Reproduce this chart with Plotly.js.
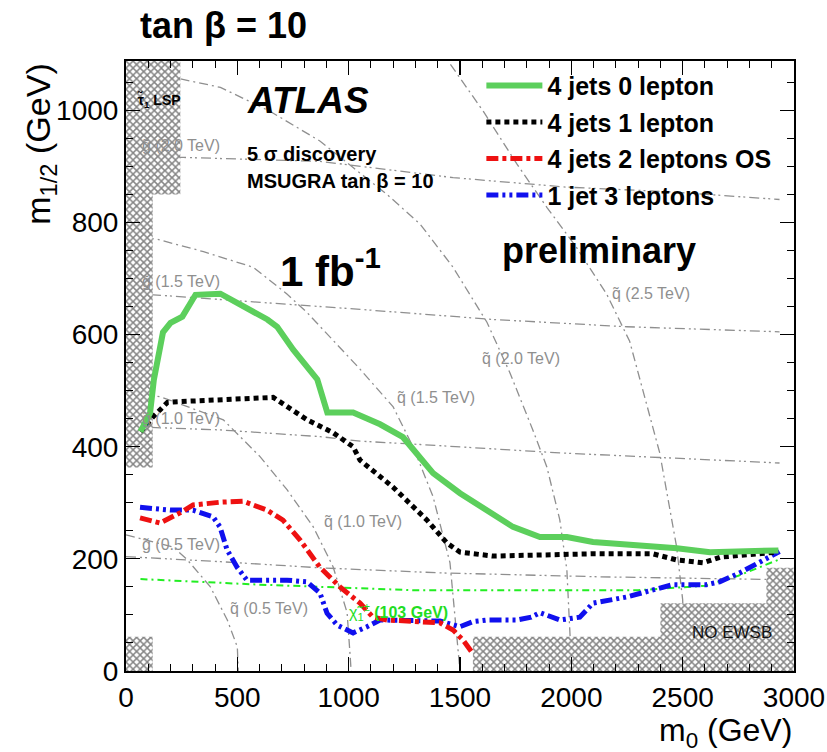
<!DOCTYPE html>
<html>
<head>
<meta charset="utf-8">
<script src="https://cdn.plot.ly/plotly-3.0.1.min.js"></script>
<style>html,body{margin:0;padding:0;background:#fff;}#chart{width:827px;height:752px;}</style>
</head>
<body>
<div id="chart"></div>
<script>
// ---- discovery contours (m0, m1/2 in GeV) ----
const zeroLep_m0 = [65,108,125,166,200,253,312,424,635,679,751,859,904,1020,1141,1244,1379,1500,1738,1859,1980,2097,2474,2623,2930];
const zeroLep_m12 = [427,460,519,604,621,632,671,673,627,614,573,520,461,461,440,417,353,317,257,239,239,230,219,212,215];

const oneLep_m0 = [65,123,186,213,661,693,814,930,1020,1051,1199,1352,1442,1500,1648,2097,2366,2474,2591,2668,2923];
const oneLep_m12 = [427,454,479,480,488,480,448,425,400,376,328,269,228,212,205,209,209,198,193,203,212];

const twoLep_m0 = [63,153,242,301,422,525,633,705,781,871,961,1051,1109,1172,1410,1469,1514,1560];
const twoLep_m12 = [273,264,282,296,301,303,287,269,234,185,150,121,96,91,86,73,55,30];

const threeLep_m0 = [63,198,301,391,422,454,499,543,723,813,871,903,948,1020,1082,1141,1410,1500,1558,1621,1756,1820,1859,1949,2038,2097,2249,2366,2455,2607,2666,2756,2846,2935];
const threeLep_m12 = [292,287,287,275,257,216,185,162,162,159,139,103,82,68,79,91,89,79,88,91,91,96,104,91,96,121,132,145,154,154,159,175,193,213];

// chargino 103 GeV line
const chi_m0 = [65,600,1300,2300,2600,2750,2940];
const chi_m12 = [164,154,144,144,152,170,200];

// gluino iso-mass lines
const gl05_m0 = [0,424,872,1321,1411,2128,2935];
const gl05_m12 = [204,195,184,177,175,168,163];
const gl10_m0 = [0,424,872,1052,1321,1948,2935];
const gl10_m12 = [436,430,418,410,404,389,371];
const gl15_m0 = [0,123,1052,1648,2249,2935];
const gl15_m12 = [673,671,645,627,614,605];
const gl20_m0 = [0,258,872,1469,1980,2428,2935];
const gl20_m12 = [918,916,909,880,863,855,841];

// squark iso-mass curves
const sq05_m0 = [0,213,276,379,455,500,504];
const sq05_m12 = [243,221,198,150,91,43,0];
const sq10_m0 = [0,155,437,603,724,841,930,993,1007,1011];
const sq10_m12 = [500,489,448,382,323,257,186,104,25,0];
const sq15_m0 = [0,141,348,572,724,814,1052,1200,1289,1379,1455,1500];
const sq15_m12 = [777,770,748,720,672,639,538,471,400,311,193,0];
const sq20_m0 = [245,424,648,872,1020,1172,1321,1469,1621,1724,1827,1890,1948,1980,2002];
const sq20_m12 = [1056,1041,998,945,898,850,797,720,622,532,430,364,270,180,0];
const sq25_m0 = [1457,1605,1756,1890,2024,2159,2262,2397,2473,2500,2509];
const sq25_m12 = [1082,998,904,827,755,672,588,389,221,127,0];

// excluded regions (hatched)
const lsp_m0 = [0,120,120,244,244,0,0,null,0,120,120,0,0];
const lsp_m12 = [363,363,850,850,1088,1088,363,null,0,0,61,61,0];
const noewsb_m0 = [1558,1558,2400,2400,2876,2876,3000,3000,1558];
const noewsb_m12 = [0,61,61,121,121,184,184,0,0];

const seriesNames = ['4 jets 0 lepton','4 jets 1 lepton','4 jets 2 leptons OS','1 jet 3 leptons'];

const FONT = 'Liberation Sans, Arial, Helvetica, sans-serif';
const GRAY = '#8f8f8f';

function iso(x, y, dash) {
  return {x: x, y: y, type: 'scatter', mode: 'lines', showlegend: false, hoverinfo: 'skip',
          line: {color: GRAY, width: 1.3, dash: dash}};
}
const SQD = '9px,4px,2px,4px';
const GLD = '10px,4px,2px,3px,2px,4px';

const hatch = {shape: 'x', size: 5, solidity: 0.5, fgcolor: '#858585', bgcolor: '#ffffff'};

const traces = [
  iso(gl05_m0, gl05_m12, GLD), iso(gl10_m0, gl10_m12, GLD), iso(gl15_m0, gl15_m12, GLD), iso(gl20_m0, gl20_m12, GLD),
  iso(sq05_m0, sq05_m12, SQD), iso(sq10_m0, sq10_m12, SQD), iso(sq15_m0, sq15_m12, SQD), iso(sq20_m0, sq20_m12, SQD), iso(sq25_m0, sq25_m12, SQD),
  {x: lsp_m0, y: lsp_m12, type: 'scatter', mode: 'lines', fill: 'toself', fillpattern: hatch, fillcolor: 'rgba(0,0,0,0)',
   line: {width: 0, color: 'rgba(0,0,0,0)'}, showlegend: false, hoverinfo: 'skip'},
  {x: noewsb_m0, y: noewsb_m12, type: 'scatter', mode: 'lines', fill: 'toself', fillpattern: hatch, fillcolor: 'rgba(0,0,0,0)',
   line: {width: 0, color: 'rgba(0,0,0,0)'}, showlegend: false, hoverinfo: 'skip'},
  {x: chi_m0, y: chi_m12, type: 'scatter', mode: 'lines', showlegend: false, hoverinfo: 'skip',
   line: {color: '#22ee22', width: 2, dash: '7px,4px,2px,4px'}},
  {x: threeLep_m0, y: threeLep_m12, type: 'scatter', mode: 'lines', name: seriesNames[3], legendgroup: 'd', legendrank: 4,
   line: {color: '#1010ee', width: 5, dash: '12px,4px,3px,4px,3px,4px'}},
  {x: twoLep_m0, y: twoLep_m12, type: 'scatter', mode: 'lines', name: seriesNames[2], legendgroup: 'c', legendrank: 3,
   line: {color: '#ee1111', width: 5, dash: '12px,4px,4px,4px'}},
  {x: oneLep_m0, y: oneLep_m12, type: 'scatter', mode: 'lines', name: seriesNames[1], legendgroup: 'b', legendrank: 2,
   line: {color: '#000000', width: 5, dash: '5px,4px'}},
  {x: zeroLep_m0, y: zeroLep_m12, type: 'scatter', mode: 'lines', name: seriesNames[0], legendgroup: 'a', legendrank: 1,
   line: {color: '#5ccf5c', width: 6}}
];

function lbl(x, y, text, opts) {
  return Object.assign({x: x, y: y, xref: 'x', yref: 'y', text: text, showarrow: false,
    xanchor: 'left', yanchor: 'middle', font: {family: FONT, size: 16, color: GRAY}}, opts || {});
}

const annotations = [
  lbl(63, 938, 'g\u0303 (2.0 TeV)'),
  lbl(63, 694, 'g\u0303 (1.5 TeV)'),
  lbl(63, 451, 'g\u0303 (1.0 TeV)'),
  lbl(63, 225, 'g\u0303 (0.5 TeV)'),
  lbl(458, 112, 'q\u0303 (0.5 TeV)'),
  lbl(880, 267, 'q\u0303 (1.0 TeV)'),
  lbl(1208, 487, 'q\u0303 (1.5 TeV)'),
  lbl(1590, 558, 'q\u0303 (2.0 TeV)'),
  lbl(2174, 674, 'q\u0303 (2.5 TeV)'),
  lbl(993, 105, '\u03C7\u0303<sub>1</sub><sup>\u00B1</sup> <b>(103 GeV)</b>', {font: {family: FONT, size: 16, color: '#22dd22'}}),
  lbl(40, 1018, '\u03C4\u0303<sub>1</sub> LSP', {font: {family: FONT, size: 14, color: '#000', weight: 'bold'}}),
  lbl(535, 1018, '<i>ATLAS</i>', {font: {family: FONT, size: 37, color: '#000', weight: 'bold'}}),
  lbl(535, 922, '5 \u03C3 discovery', {font: {family: FONT, size: 20, color: '#000', weight: 'bold'}}),
  lbl(535, 874, 'MSUGRA tan \u03B2 = 10', {font: {family: FONT, size: 20, color: '#000', weight: 'bold'}}),
  lbl(683, 718, '1 fb<sup>-1</sup>', {font: {family: FONT, size: 42, color: '#000', weight: 'bold'}}),
  lbl(1680, 750, 'preliminary', {font: {family: FONT, size: 36, color: '#000', weight: 'bold'}}),
  lbl(2722, 68, 'NO EWSB', {xanchor: 'center', font: {family: FONT, size: 17, color: '#111'}}),
  {x: 1.0, y: -0.1, xref: 'paper', yref: 'paper', xanchor: 'right', yanchor: 'middle', showarrow: false,
   text: 'm<sub>0</sub> (GeV)', font: {family: FONT, size: 32, color: '#000'}},
  {x: -0.129, y: 1.0, xref: 'paper', yref: 'paper', xanchor: 'center', yanchor: 'top', showarrow: false, textangle: -90,
   text: 'm<sub>1/2</sub> (GeV)', font: {family: FONT, size: 34, color: '#000'}}
];

const axisCommon = {
  showgrid: false, zeroline: false, showline: true, linecolor: '#000', linewidth: 2, mirror: 'ticks',
  ticks: 'inside', ticklen: 14, tickwidth: 1.2, tickcolor: '#000',
  tickfont: {family: FONT, size: 28, color: '#000'}
};

const layout = {
  width: 827, height: 752,
  margin: {l: 126, r: 33, t: 61, b: 81},
  paper_bgcolor: '#fff', plot_bgcolor: '#fff',
  title: {text: '<b>tan \u03B2 = 10</b>', x: 140/827, xref: 'container', xanchor: 'left',
          y: 1 - 25/752, yref: 'container', yanchor: 'middle', font: {family: FONT, size: 36, color: '#000'}},
  xaxis: Object.assign({}, axisCommon, {range: [0, 3000], dtick: 500, tick0: 0,
    minor: {dtick: 100, ticks: 'inside', ticklen: 7, tickcolor: '#000', tickwidth: 1}}),
  yaxis: Object.assign({}, axisCommon, {range: [0, 1088], dtick: 200, tick0: 0,
    minor: {dtick: 50, ticks: 'inside', ticklen: 7, tickcolor: '#000', tickwidth: 1}}),
  showlegend: true,
  legend: {x: 0.532, y: 0.997, xanchor: 'left', yanchor: 'top', bgcolor: 'rgba(0,0,0,0)',
           traceorder: 'grouped', tracegroupgap: 1, itemwidth: 56,
           font: {family: FONT, size: 25, color: '#000', weight: 'bold'}},
  annotations: annotations
};

Plotly.newPlot('chart', traces, layout, {displayModeBar: false, staticPlot: true});
</script>
</body>
</html>
